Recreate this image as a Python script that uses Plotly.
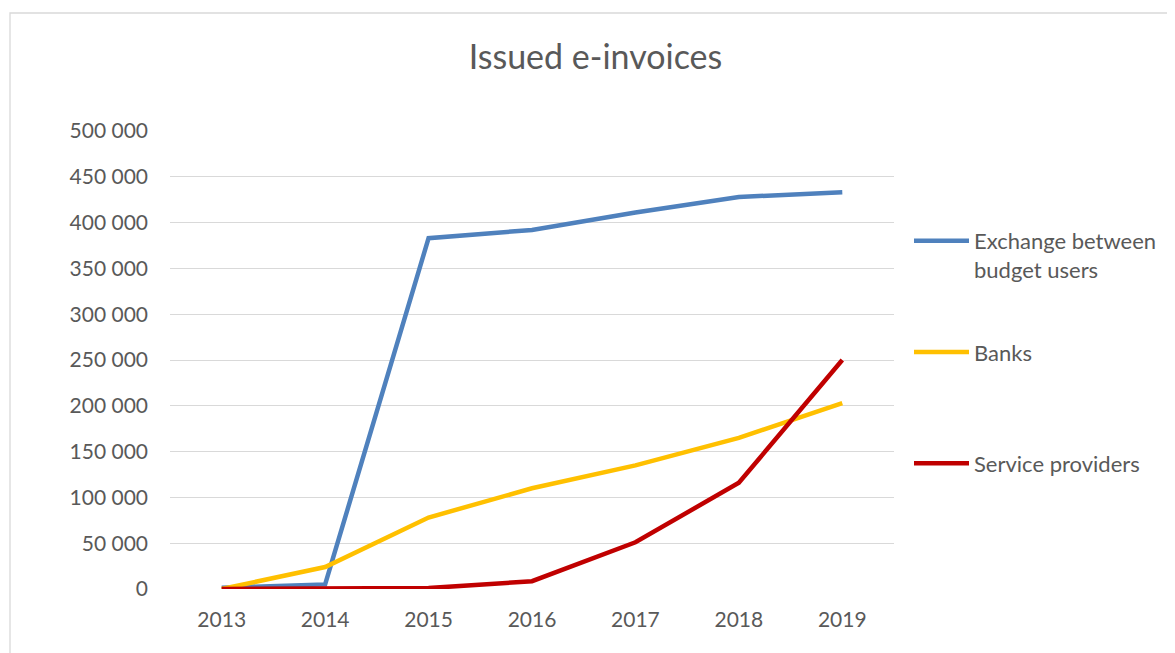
import plotly.graph_objects as go

years = ["2013", "2014", "2015", "2016", "2017", "2018", "2019"]
exchange_budget_users = [1500, 5000, 383000, 392000, 411000, 428000, 433000]
banks = [0, 24000, 78000, 110000, 135000, 165000, 203000]
service_providers = [0, 500, 1000, 8500, 51000, 116000, 250000]

series = [
    ("Exchange between<br>budget users", exchange_budget_users, "#4F81BD"),
    ("Banks<br> ", banks, "#FFC000"),
    ("Service providers<br> ", service_providers, "#C00000"),
]

FONT = "Lato"
GRAY = "#595959"
OFF = 8  # page body margin

W, H = 1175, 653
# page-pixel plot area
PL, PR, PT, PB = 170, 894, 131, 589
L = PL - OFF
T = PT - OFF
R = W - (PR - OFF)
B = H - (PB - OFF)
PW = PR - PL
PH = PB - PT

def px_x(px):
    return (px - PL) / PW

def px_y(py):
    return (PB - py) / PH

fig = go.Figure()
for i, (name, vals, color) in enumerate(series):
    fig.add_trace(go.Scatter(
        x=years, y=vals, name=name, mode="lines",
        line=dict(color=color, width=4.5),
        legendgroup=f"g{i}",
    ))

fig.update_layout(
    width=W, height=H,
    margin=dict(l=L, r=R, t=T, b=B),
    paper_bgcolor="white", plot_bgcolor="white",
    separators=". ",
    font=dict(family=FONT, size=21, color=GRAY),
    title=dict(text="Issued e-invoices", x=0.5, xanchor="center",
               y=1 - (57 - OFF) / H, yanchor="middle",
               font=dict(family=FONT, size=34, color=GRAY)),
    xaxis=dict(type="category", range=[-0.5, 6.5], showgrid=False,
               showline=False, zeroline=False,
               ticks="", ticklabelstandoff=16,
               tickfont=dict(size=21, color=GRAY)),
    yaxis=dict(range=[0, 500000], dtick=50000, tickformat=",.0f",
               showgrid=True, gridcolor="#D9D9D9", gridwidth=1.3,
               zeroline=False, showline=False, ticks="",
               ticklabelstandoff=21,
               tickfont=dict(size=21, color=GRAY)),
    legend=dict(x=px_x(909), xanchor="left", y=px_y(220), yanchor="top",
                traceorder="grouped", tracegroupgap=51, valign="top",
                itemwidth=55,
                font=dict(family=FONT, size=22, color=GRAY),
                bgcolor="rgba(0,0,0,0)"),
    showlegend=True,
    shapes=[dict(type="rect", xref="paper", yref="paper",
                 x0=px_x(10), x1=px_x(1185), y0=px_y(665), y1=px_y(13),
                 line=dict(color="#D9D9D9", width=1.3), layer="below")],
)

fig.write_html("out.html")
